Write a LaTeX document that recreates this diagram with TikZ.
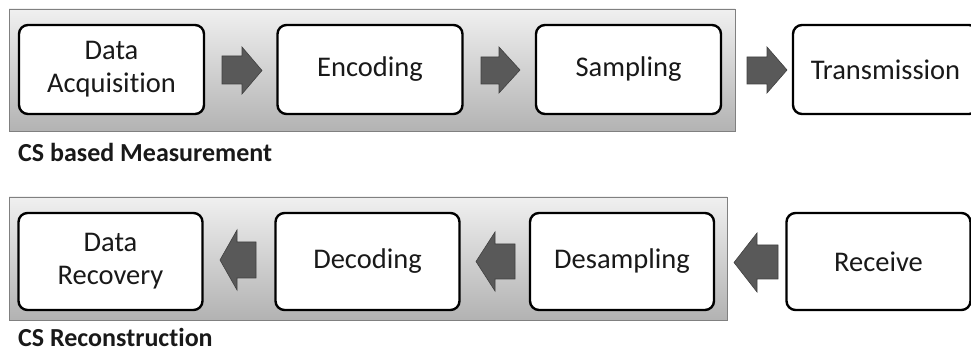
\documentclass[tikz,border=0pt]{standalone}
\usepackage{fontspec}
\setmainfont{Carlito}[Ligatures={NoCommon}]
\usetikzlibrary{shadows}
\begin{document}
\begin{tikzpicture}[x=1pt,y=-1pt,
  panel/.style={draw=black!50, line width=0.8pt, top color=black!6, bottom color=black!30,
    drop shadow={shadow xshift=1.2pt, shadow yshift=-1.2pt, opacity=0.35, fill=black!60}},
  stage/.style={draw=black, line width=2.4pt, fill=white, rounded corners=9pt,
    align=center, inner sep=0pt, font=\fontsize{28.5}{33}\selectfont, text=black!90},
  toprow/.style={stage, minimum width=185pt, minimum height=89pt},
  botrow/.style={stage, minimum width=184pt, minimum height=97pt},
  blockarrow/.style={fill=black!65, draw=black!75, line width=0.6pt, line join=miter},
  caption/.style={anchor=base west, inner sep=0pt, font=\bfseries\fontsize{26}{30}\selectfont, text=black!90}]
  \clip (0,0) rectangle (971,352);

  % grey stage groups
  \path[panel] (9,9) rectangle (735,131);
  \path[panel] (9,197) rectangle (727,320);

  % measurement chain
  \node[toprow] (acq)   at (111.5,69.5) {Data\\Acquisition};
  \node[toprow] (enc)   at (370,69.5)   {Encoding};
  \node[toprow] (samp)  at (628.5,69.5) {Sampling};
  \node[toprow] (trans) at (885.5,69.5) {Transmission};

  % reconstruction chain
  \node[botrow] (rec)   at (110.5,261.5) {Data\\Recovery};
  \node[botrow] (dec)   at (367.5,261.5) {Decoding};
  \node[botrow] (desm)  at (622,261.5)   {Desampling};
  \node[botrow] (recv)  at (878.5,261.5) {Receive};

  % block arrows, left to right
  \draw[blockarrow] (222,56) -- (242,56) -- (242,47) -- (262,70.5) -- (242,94) -- (242,84) -- (222,84) -- cycle;
  \draw[blockarrow] (481,57) -- (499,57) -- (499,47) -- (520,70) -- (499,93) -- (499,84) -- (481,84) -- cycle;
  \draw[blockarrow] (747,57) -- (767,57) -- (767,47) -- (787,70) -- (767,93) -- (767,84) -- (747,84) -- cycle;

  % block arrows, right to left
  \draw[blockarrow] (256,242) -- (237,242) -- (237,230) -- (220,260) -- (237,290) -- (237,278) -- (256,278) -- cycle;
  \draw[blockarrow] (515,244) -- (495,244) -- (495,232) -- (476,261.5) -- (495,291) -- (495,279) -- (515,279) -- cycle;
  \draw[blockarrow] (778,245) -- (757,245) -- (757,233) -- (734,262.5) -- (757,292) -- (757,279) -- (778,279) -- cycle;

  % group captions
  \node[caption] (capm) at (18,161.5) {CS based Measurement};
  \node[caption] (capr) at (18,346) {CS Reconstruction};
\end{tikzpicture}
\end{document}
